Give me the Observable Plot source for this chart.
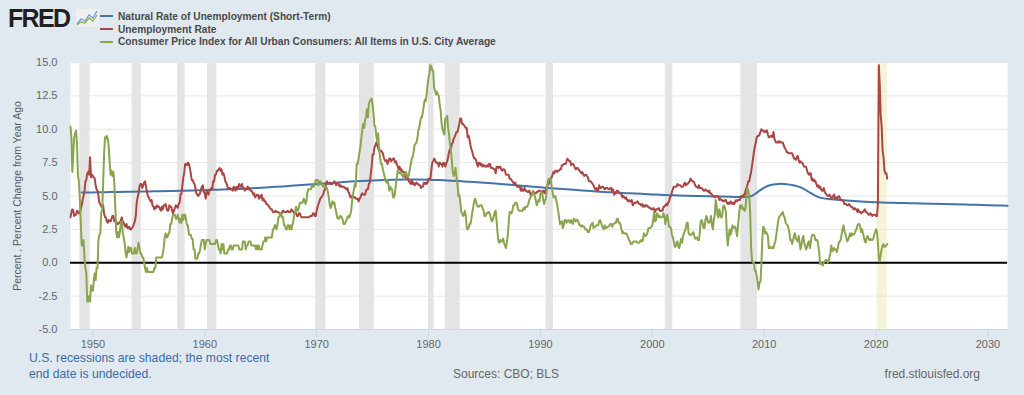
<!DOCTYPE html>
<html><head><meta charset="utf-8">
<script src="https://cdn.jsdelivr.net/npm/d3@7"></script>
<script src="https://cdn.jsdelivr.net/npm/@observablehq/plot@0.6"></script>
<style>
html,body{margin:0;padding:0;background:#e1e9f0;}
#wrap{position:relative;width:1024px;height:395px;overflow:hidden;background:#e1e9f0;font-family:"Liberation Sans",Arial,sans-serif;}
#chart{position:absolute;left:0;top:0;}
#logo{position:absolute;left:8px;top:4px;font-size:25px;font-weight:bold;color:#231f20;letter-spacing:-1.7px;}
#icon{position:absolute;left:76px;top:9px;}
#legend{position:absolute;left:100px;top:11px;font-size:10.2px;font-weight:bold;color:#4a4a4a;}
.li{height:12.7px;line-height:12.7px;white-space:nowrap;position:relative;}
.sw{display:inline-block;width:13px;height:2px;vertical-align:middle;margin-right:5px;position:relative;top:-1px;}
.ft{position:absolute;font-size:12px;white-space:nowrap;}
</style></head><body>
<div id="wrap">
  <div id="chart"></div>
  <div id="logo">FRED</div>
  <svg id="icon" width="23" height="18" viewBox="0 0 23 18">
    <rect x="0" y="0" width="23" height="18" fill="#eef0f2"/>
    <polyline points="1,15 5,10 9,12 13,6 17,9 21,2" fill="none" stroke="#6e9ed2" stroke-width="1.3"/>
    <polyline points="1,16 5,13 9,14 13,9 17,12 21,6" fill="none" stroke="#8fb24a" stroke-width="1.3"/>
  </svg>
  <div id="legend"></div>
  <div class="ft" style="left:29px;top:350px;color:#3e6aa6;line-height:16px;font-size:12.2px;">U.S. recessions are shaded; the most recent<br>end date is undecided.</div>
  <div class="ft" style="left:506px;top:367px;transform:translateX(-50%);color:#666;">Sources: CBO; BLS</div>
  <div class="ft" style="right:44px;top:367px;color:#666;">fred.stlouisfed.org</div>
</div>
<script>
// ---------- DATA ----------
const seriesNames = [
  "Natural Rate of Unemployment (Short-Term)",
  "Unemployment Rate",
  "Consumer Price Index for All Urban Consumers: All Items in U.S. City Average"
];
const seriesColors = ["#4572a7", "#aa4643", "#89a54e"];

// Monthly series start January 1948 and end January 2021
const monthlyStart = [1948, 0];

const unemploymentRate = [
3.4,3.8,4.0,3.9,3.5,3.6,3.6,3.9,3.8,3.7,3.8,4.0,
4.3,4.7,5.0,5.3,6.1,6.2,6.7,6.8,6.6,7.9,6.4,6.6,
6.5,6.4,6.3,5.8,5.5,5.4,5.0,4.5,4.4,4.2,4.2,4.3,
3.7,3.4,3.4,3.1,3.0,3.2,3.1,3.1,3.3,3.5,3.5,3.1,
3.2,3.1,2.9,2.9,3.0,3.0,3.2,3.4,3.1,3.0,2.8,2.7,
2.9,2.6,2.6,2.7,2.5,2.5,2.6,2.7,2.9,3.1,3.5,4.5,
4.9,5.2,5.7,5.9,5.9,5.6,5.8,6.0,6.1,5.7,5.3,5.0,
4.9,4.7,4.6,4.7,4.3,4.2,4.0,4.2,4.1,4.3,4.2,4.2,
4.0,3.9,4.2,4.0,4.3,4.3,4.4,4.1,3.9,3.9,4.3,4.2,
4.2,3.9,3.7,3.9,4.1,4.3,4.2,4.1,4.4,4.5,5.1,5.2,
5.8,6.4,6.7,7.4,7.4,7.3,7.5,7.4,7.1,6.7,6.2,6.2,
6.0,5.9,5.6,5.2,5.1,5.0,5.1,5.2,5.5,5.7,5.8,5.3,
5.2,4.8,5.4,5.2,5.1,5.4,5.5,5.6,5.5,6.1,6.1,6.6,
6.6,6.9,6.9,7.0,7.1,6.9,7.0,6.6,6.7,6.5,6.1,6.0,
5.8,5.5,5.6,5.6,5.5,5.5,5.4,5.7,5.6,5.4,5.7,5.5,
5.7,5.9,5.7,5.7,5.9,5.6,5.6,5.4,5.5,5.5,5.7,5.5,
5.6,5.4,5.4,5.3,5.1,5.2,4.9,5.0,5.1,5.1,4.8,5.0,
4.9,5.1,4.7,4.8,4.6,4.6,4.4,4.4,4.3,4.2,4.1,4.0,
4.0,3.8,3.8,3.8,3.9,3.8,3.8,3.8,3.7,3.7,3.6,3.8,
3.9,3.8,3.8,3.8,3.8,3.9,3.8,3.8,3.8,4.0,3.9,3.8,
3.7,3.8,3.7,3.5,3.5,3.7,3.7,3.5,3.4,3.4,3.4,3.4,
3.4,3.4,3.4,3.4,3.4,3.5,3.5,3.5,3.7,3.7,3.5,3.5,
3.9,4.2,4.4,4.6,4.8,4.9,5.0,5.1,5.4,5.5,5.9,6.1,
5.9,5.9,6.0,5.9,5.9,5.9,6.0,6.1,6.0,5.8,6.0,6.0,
5.8,5.7,5.8,5.7,5.7,5.7,5.6,5.6,5.5,5.6,5.3,5.2,
4.9,5.0,4.9,5.0,4.9,4.9,4.8,4.8,4.8,4.6,4.8,4.9,
5.1,5.2,5.1,5.1,5.1,5.4,5.5,5.5,5.9,6.0,6.6,7.2,
8.1,8.1,8.6,8.8,9.0,8.8,8.6,8.4,8.4,8.4,8.3,8.2,
7.9,7.7,7.6,7.7,7.4,7.6,7.8,7.8,7.6,7.7,7.8,7.8,
7.5,7.6,7.4,7.2,7.0,7.2,6.9,7.0,6.8,6.8,6.8,6.4,
6.4,6.3,6.3,6.1,6.0,5.9,6.2,5.9,6.0,5.8,5.9,6.0,
5.9,5.9,5.8,5.8,5.6,5.7,5.7,6.0,5.9,6.0,5.9,6.0,
6.3,6.3,6.3,6.9,7.5,7.6,7.8,7.7,7.5,7.5,7.5,7.2,
7.5,7.4,7.4,7.2,7.5,7.5,7.2,7.4,7.6,7.9,8.3,8.5,
8.6,8.9,9.0,9.3,9.4,9.6,9.8,9.8,10.1,10.4,10.8,10.8,
10.4,10.4,10.3,10.2,10.1,10.1,9.4,9.5,9.2,8.8,8.5,8.3,
8.0,7.8,7.8,7.7,7.4,7.2,7.5,7.5,7.3,7.4,7.2,7.3,
7.3,7.2,7.2,7.3,7.2,7.4,7.4,7.1,7.1,7.1,7.0,7.0,
6.7,7.2,7.2,7.1,7.2,7.2,7.0,6.9,7.0,7.0,6.9,6.6,
6.6,6.6,6.6,6.3,6.3,6.2,6.1,6.0,5.9,6.0,5.8,5.7,
5.7,5.7,5.7,5.4,5.6,5.4,5.4,5.6,5.4,5.4,5.3,5.3,
5.4,5.2,5.0,5.2,5.2,5.3,5.2,5.2,5.3,5.3,5.4,5.4,
5.4,5.3,5.2,5.4,5.4,5.2,5.5,5.7,5.9,5.9,6.2,6.3,
6.4,6.6,6.8,6.7,6.9,6.9,6.8,6.9,6.9,7.0,7.0,7.3,
7.3,7.4,7.4,7.4,7.6,7.8,7.7,7.6,7.6,7.3,7.4,7.4,
7.3,7.1,7.0,7.1,7.1,7.0,6.9,6.8,6.7,6.8,6.6,6.5,
6.6,6.6,6.5,6.4,6.1,6.1,6.1,6.0,5.9,5.8,5.6,5.5,
5.6,5.4,5.4,5.8,5.6,5.6,5.7,5.7,5.6,5.5,5.6,5.6,
5.6,5.5,5.5,5.6,5.6,5.3,5.5,5.1,5.2,5.2,5.4,5.4,
5.3,5.2,5.2,5.1,4.9,5.0,4.9,4.8,4.9,4.7,4.6,4.7,
4.6,4.6,4.7,4.3,4.4,4.5,4.5,4.5,4.6,4.5,4.4,4.4,
4.3,4.4,4.2,4.3,4.2,4.3,4.3,4.2,4.2,4.1,4.1,4.0,
4.0,4.1,4.0,3.8,4.0,4.0,4.0,4.1,3.9,3.9,3.9,3.9,
4.2,4.2,4.3,4.4,4.3,4.5,4.6,4.9,5.0,5.3,5.5,5.7,
5.7,5.7,5.7,5.9,5.8,5.8,5.8,5.7,5.7,5.7,5.9,6.0,
5.8,5.9,5.9,6.0,6.1,6.3,6.2,6.1,6.1,6.0,5.8,5.7,
5.7,5.6,5.8,5.6,5.6,5.6,5.5,5.4,5.4,5.5,5.4,5.4,
5.3,5.4,5.2,5.2,5.1,5.0,5.0,4.9,5.0,5.0,5.0,4.9,
4.7,4.8,4.7,4.7,4.6,4.6,4.7,4.7,4.5,4.4,4.5,4.4,
4.6,4.5,4.4,4.5,4.4,4.6,4.7,4.6,4.7,4.7,4.7,5.0,
5.0,4.9,5.1,5.0,5.4,5.6,5.8,6.1,6.1,6.5,6.8,7.3,
7.8,8.3,8.7,9.0,9.4,9.5,9.5,9.6,9.8,10.0,9.9,9.9,
9.8,9.8,9.9,9.9,9.6,9.4,9.4,9.5,9.5,9.4,9.8,9.3,
9.1,9.0,9.0,9.1,9.0,9.1,9.0,9.0,9.0,8.8,8.6,8.5,
8.3,8.3,8.2,8.2,8.2,8.2,8.2,8.0,7.8,7.8,7.7,7.9,
8.0,7.7,7.5,7.6,7.5,7.5,7.3,7.2,7.2,7.2,6.9,6.7,
6.6,6.7,6.7,6.2,6.3,6.1,6.2,6.1,5.9,5.7,5.8,5.6,
5.7,5.5,5.4,5.4,5.6,5.3,5.2,5.1,5.0,5.0,5.1,5.0,
4.8,4.9,5.0,5.1,4.8,4.9,4.8,4.9,5.0,4.9,4.7,4.7,
4.7,4.6,4.4,4.4,4.4,4.3,4.3,4.4,4.3,4.2,4.2,4.1,
4.0,4.1,4.0,4.0,3.8,4.0,3.8,3.8,3.7,3.8,3.8,3.9,
4.0,3.8,3.8,3.7,3.6,3.6,3.7,3.6,3.5,3.6,3.6,3.6,
3.5,3.5,4.4,14.8,13.3,11.1,10.2,8.4,7.9,6.9,6.7,6.7,
6.3
];

const cpiPctChangeYearAgo = [
10.2,9.3,6.8,8.2,9.4,9.7,9.9,8.9,6.5,6.1,4.8,3.0,
1.3,1.3,1.7,0.4,-0.4,-0.8,-2.9,-2.9,-2.5,-2.9,-1.7,-2.1,
-2.1,-1.3,-0.8,-1.3,-0.4,-0.4,1.7,2.1,2.2,3.8,3.9,5.9,
8.1,9.4,9.3,9.5,9.3,8.7,7.6,6.6,6.9,6.5,6.8,6.0,
4.3,2.3,1.9,2.3,1.9,2.3,3.0,3.1,2.3,1.9,1.5,0.8,
0.4,0.8,1.2,0.8,1.1,1.1,0.7,0.7,0.7,1.1,0.7,0.7,
1.1,1.5,1.1,0.7,0.7,0.4,0.4,0.0,-0.4,-0.7,-0.4,-0.7,
-0.7,-0.7,-0.7,-0.7,-0.7,-0.7,-0.4,-0.4,0.4,0.4,0.4,0.4,
0.4,0.4,0.4,0.7,1.1,1.9,2.2,1.9,1.9,2.2,2.2,2.9,
2.9,3.3,3.6,3.6,3.6,3.3,3.3,3.6,3.3,3.0,3.3,3.0,
3.6,3.2,3.6,3.6,3.2,2.8,2.8,2.1,2.1,2.1,1.8,1.8,
1.0,1.0,0.3,0.3,0.3,0.7,0.7,1.0,1.4,1.7,1.7,1.7,
1.0,1.4,1.7,1.7,1.7,1.7,1.4,1.4,1.4,1.4,1.4,1.4,
1.7,1.7,1.4,1.0,1.0,0.7,1.4,1.0,1.4,0.7,0.7,0.7,
0.7,1.0,1.0,1.3,1.3,1.0,1.0,1.3,1.3,1.3,1.3,1.3,
1.3,1.0,1.0,1.0,1.0,1.6,1.6,1.6,1.0,1.3,1.3,1.6,
1.6,1.6,1.3,1.3,1.3,1.3,1.3,1.0,1.3,1.0,1.3,1.0,
1.0,1.0,1.3,1.6,1.6,1.9,1.6,1.9,1.9,1.9,1.9,1.9,
1.9,2.5,2.5,2.8,2.8,2.5,2.8,3.4,3.4,3.7,3.7,3.4,
3.4,2.8,2.8,2.5,2.5,2.8,2.8,2.5,2.8,2.5,2.8,3.1,
3.6,3.9,4.2,3.9,3.9,4.2,4.5,4.5,4.5,4.5,4.8,4.7,
4.4,4.6,5.2,5.5,5.5,5.5,5.5,5.8,5.7,5.7,5.9,6.2,
6.2,6.2,5.8,6.1,6.1,6.0,5.8,5.7,5.8,5.7,5.6,5.6,
5.3,4.9,4.4,4.1,4.3,4.6,4.4,4.5,4.1,3.8,3.4,3.3,
3.3,3.5,3.5,3.4,3.2,2.9,2.9,3.0,3.2,3.4,3.5,3.4,
3.6,3.9,4.6,5.1,5.5,5.9,5.7,7.4,7.4,7.8,8.3,8.7,
9.4,10.0,10.4,10.1,10.7,10.9,11.5,10.9,11.9,12.1,12.2,12.3,
11.8,11.2,10.3,10.2,9.5,9.1,9.7,8.6,7.9,7.4,7.4,7.0,
6.7,6.4,6.1,6.0,6.2,5.9,5.4,5.7,5.5,5.5,4.9,4.9,
5.2,5.9,6.4,6.9,6.7,6.7,6.8,6.6,6.6,6.4,6.7,6.7,
6.8,6.4,6.4,6.6,7.0,7.4,7.8,7.9,8.3,8.8,8.9,9.0,
9.3,9.9,10.1,10.5,10.9,10.9,11.3,11.8,12.2,12.1,12.6,13.3,
13.9,14.2,14.8,14.7,14.4,14.4,13.1,12.9,12.6,12.8,12.6,12.5,
11.8,11.4,10.5,10.0,9.8,9.6,10.8,10.8,11.0,10.1,9.6,8.9,
8.4,7.6,6.8,6.5,6.7,7.1,6.4,5.9,5.0,5.1,4.6,3.8,
3.7,3.5,3.6,3.9,3.5,2.6,2.5,2.6,2.9,2.9,3.3,3.8,
4.2,4.6,4.8,4.6,4.3,4.2,4.2,4.3,4.3,4.3,4.1,3.9,
3.5,3.5,3.7,3.7,3.8,3.8,3.6,3.3,3.1,3.2,3.5,3.8,
3.9,3.1,2.3,1.6,1.5,1.7,1.6,1.6,1.8,1.5,1.3,1.1,
1.5,2.1,3.0,3.8,3.8,3.7,3.9,4.3,4.3,4.5,4.5,4.4,
4.0,3.9,3.9,3.9,3.9,3.9,4.1,4.0,4.2,4.2,4.2,4.4,
4.7,4.8,5.0,5.1,5.4,5.2,5.0,4.7,4.3,4.5,4.7,4.6,
5.2,5.3,5.2,4.7,4.4,4.7,4.8,5.6,6.1,6.3,6.3,6.3,
5.7,5.3,4.9,4.9,5.0,4.7,4.4,3.9,3.4,2.9,3.0,3.1,
2.6,2.8,3.2,3.2,3.0,3.1,3.2,3.1,3.0,3.2,3.0,2.9,
3.3,3.2,3.1,3.2,3.2,3.0,2.8,2.8,2.7,2.8,2.7,2.7,
2.5,2.5,2.5,2.3,2.3,2.5,2.8,2.9,3.0,2.6,2.7,2.7,
2.8,2.8,2.8,3.1,3.2,3.0,2.8,2.6,2.5,2.8,2.6,2.6,
2.7,2.7,2.8,2.9,2.9,2.7,2.9,2.9,3.0,3.0,3.3,3.3,
3.0,3.0,2.8,2.5,2.2,2.3,2.2,2.2,2.2,2.1,1.9,1.7,
1.6,1.4,1.4,1.5,1.6,1.6,1.6,1.6,1.5,1.5,1.5,1.6,
1.7,1.6,1.7,2.2,2.1,2.0,2.1,2.3,2.6,2.6,2.6,2.7,
2.8,3.2,3.8,3.1,3.2,3.7,3.6,3.4,3.5,3.4,3.4,3.4,
3.7,3.5,2.9,3.3,3.6,3.2,2.7,2.7,2.6,2.1,1.9,1.6,
1.2,1.2,1.5,1.6,1.2,1.1,1.5,1.8,1.5,2.0,2.2,2.4,
2.6,3.0,3.0,2.2,2.1,2.1,2.1,2.2,2.3,2.0,1.8,1.9,
1.9,1.7,1.7,2.3,3.1,3.2,3.0,2.6,2.6,3.2,3.5,3.3,
3.0,3.0,3.1,3.5,2.8,2.5,3.2,3.6,4.7,4.3,3.5,3.4,
4.0,3.6,3.4,3.5,4.2,4.3,4.1,3.8,2.1,1.3,2.0,2.5,
2.1,2.4,2.8,2.6,2.7,2.7,2.4,2.0,2.8,3.5,4.3,4.1,
4.3,4.0,4.1,3.9,4.1,5.0,5.6,5.4,4.9,3.7,1.1,0.1,
0.0,0.0,-0.6,-0.6,-1.0,-1.4,-2.0,-1.5,-1.4,-0.2,1.8,2.7,
2.6,2.2,2.3,2.2,2.0,1.1,1.2,1.1,1.1,1.2,1.1,1.4,
1.6,2.1,2.6,3.1,3.4,3.5,3.6,3.7,3.8,3.5,3.4,3.0,
2.9,2.8,2.6,2.3,1.7,1.7,1.4,1.7,2.0,2.2,1.8,1.7,
1.6,2.0,1.5,1.0,1.3,1.8,2.0,1.5,1.2,1.0,1.2,1.5,
1.6,1.1,1.5,2.0,2.1,2.1,2.0,1.7,1.7,1.7,1.3,0.8,
-0.1,0.0,-0.1,-0.2,0.0,0.1,0.2,0.2,0.0,0.1,0.4,0.7,
1.3,0.9,0.9,1.1,1.0,1.0,0.8,1.1,1.5,1.6,1.7,2.1,
2.5,2.8,2.4,2.2,1.9,1.6,1.7,1.9,2.2,2.0,2.2,2.1,
2.1,2.2,2.4,2.5,2.8,2.9,2.9,2.7,2.3,2.5,2.2,1.9,
1.6,1.5,1.9,2.0,1.8,1.7,1.8,1.7,1.7,1.8,2.1,2.3,
2.5,2.3,1.5,0.3,0.1,0.6,1.0,1.3,1.4,1.2,1.2,1.3,
1.4
];

// CBO short-term natural rate (read at the start of each year)
const naturalRateDates = [
"1949-01-01","1950-01-01","1951-01-01","1952-01-01","1953-01-01","1954-01-01","1955-01-01","1956-01-01","1957-01-01","1958-01-01",
"1959-01-01","1960-01-01","1961-01-01","1962-01-01","1963-01-01","1964-01-01","1965-01-01","1966-01-01","1967-01-01","1968-01-01",
"1969-01-01","1970-01-01","1971-01-01","1972-01-01","1973-01-01","1974-01-01","1975-01-01","1976-01-01","1977-01-01","1978-01-01",
"1979-01-01","1980-01-01","1981-01-01","1982-01-01","1983-01-01","1984-01-01","1985-01-01","1986-01-01","1987-01-01","1988-01-01",
"1989-01-01","1990-01-01","1991-01-01","1992-01-01","1993-01-01","1994-01-01","1995-01-01","1996-01-01","1997-01-01","1998-01-01",
"1999-01-01","2000-01-01","2001-01-01","2002-01-01","2003-01-01","2004-01-01","2005-01-01","2006-01-01","2007-01-01","2008-01-01",
"2008-07-01","2009-01-01","2009-07-01","2010-01-01","2010-07-01","2011-01-01","2011-07-01","2012-01-01","2012-07-01","2013-01-01",
"2013-07-01","2014-01-01","2014-07-01","2015-01-01","2016-01-01","2017-01-01","2018-01-01","2019-01-01","2020-01-01","2021-01-01",
"2022-01-01","2023-01-01","2024-01-01","2025-01-01","2026-01-01","2027-01-01","2028-01-01","2029-01-01","2030-01-01","2031-01-01",
"2031-10-01"
];
const naturalRateValues = [
5.26,5.27,5.28,5.30,5.31,5.33,5.34,5.36,5.38,5.40,
5.42,5.44,5.47,5.50,5.53,5.57,5.62,5.67,5.72,5.78,
5.84,5.90,5.96,6.02,6.08,6.13,6.17,6.20,6.22,6.23,
6.23,6.22,6.19,6.15,6.10,6.05,5.99,5.93,5.86,5.79,
5.72,5.65,5.58,5.52,5.46,5.40,5.34,5.29,5.24,5.20,
5.16,5.12,5.08,5.05,5.02,5.00,4.98,4.96,4.94,4.92,
4.93,5.05,5.35,5.62,5.80,5.88,5.91,5.88,5.82,5.72,
5.55,5.30,5.05,4.88,4.75,4.68,4.62,4.57,4.53,4.50,
4.48,4.46,4.44,4.42,4.40,4.38,4.36,4.34,4.31,4.29,
4.27
];

// NBER recessions (last one shown as undecided)
const recessionStarts = ["1948-11-01","1953-07-01","1957-08-01","1960-04-01","1969-12-01","1973-11-01","1980-01-01","1981-07-01","1990-07-01","2001-03-01","2007-12-01","2020-02-01"];
const recessionEnds   = ["1949-10-01","1954-05-01","1958-04-01","1961-02-01","1970-11-01","1975-03-01","1980-07-01","1982-11-01","1991-03-01","2001-11-01","2009-06-01","2021-01-01"];
const recessionUndecided = [false,false,false,false,false,false,false,false,false,false,false,true];

const yTicks = [-5, -2.5, 0, 2.5, 5, 7.5, 10, 12.5, 15];
const xTickYears = [1950, 1960, 1970, 1980, 1990, 2000, 2010, 2020, 2030];
const yAxisLabel = "Percent , Percent Change from Year Ago";

// ---------- BUILD ----------
const monthDate = i => new Date(Date.UTC(monthlyStart[0], monthlyStart[1] + i, 1));
const unrateData = unemploymentRate.map((v, i) => ({date: monthDate(i), value: v}));
const cpiData = cpiPctChangeYearAgo.map((v, i) => ({date: monthDate(i), value: v}));
const natData = naturalRateDates.map((d, i) => ({date: new Date(d + "T00:00:00Z"), value: naturalRateValues[i]}));
const recessions = recessionStarts.map((s, i) => ({
  start: new Date(s + "T00:00:00Z"), end: new Date(recessionEnds[i] + "T00:00:00Z"), undecided: recessionUndecided[i]
}));

// legend
const legend = document.getElementById("legend");
seriesNames.forEach((n, i) => {
  const row = document.createElement("div");
  row.className = "li";
  row.innerHTML = `<span class="sw" style="background:${seriesColors[i]}"></span>${n}`;
  legend.appendChild(row);
});

const chart = Plot.plot({
  width: 1024,
  height: 395,
  marginLeft: 70,
  marginRight: 17,
  marginTop: 62,
  marginBottom: 66,
  style: {background: "transparent", fontFamily: "Liberation Sans, Arial, sans-serif", overflow: "visible"},
  x: {type: "utc", domain: [new Date(Date.UTC(1948, 0, 1)), new Date(Date.UTC(2031, 9, 1))]},
  y: {domain: [-5, 15]},
  marks: [
    Plot.frame({fill: "white", stroke: null}),
    Plot.rectX(recessions, {x1: "start", x2: "end", fill: d => d.undecided ? "#f6f4d8" : "#e4e4e4"}),
    Plot.gridY(yTicks, {stroke: "#e6e6e6", strokeOpacity: 1}),
    Plot.ruleY([-5], {stroke: "#ccd6eb"}),
    Plot.axisY(yTicks, {tickSize: 0, tickPadding: 13, tickFormat: d => d.toFixed(1), fill: "#666", fontSize: 11, label: null}),
    Plot.axisX(xTickYears.map(y => new Date(Date.UTC(y, 0, 1))), {tickSize: 8, tickPadding: 3, stroke: "#ccd6eb", fill: "#666", fontSize: 11, tickFormat: d3.utcFormat("%Y"), label: null}),
    Plot.text([yAxisLabel], {frameAnchor: "left", textAnchor: "middle", rotate: -90, dx: -53, fill: "#595959", fontSize: 10.5}),
    Plot.ruleY([0], {stroke: "#000", strokeWidth: 2}),
    Plot.line(natData, {x: "date", y: "value", stroke: seriesColors[0], strokeWidth: 2, curve: "monotone-x"}),
    Plot.line(unrateData, {x: "date", y: "value", stroke: seriesColors[1], strokeWidth: 2}),
    Plot.line(cpiData, {x: "date", y: "value", stroke: seriesColors[2], strokeWidth: 2})
  ]
});
document.getElementById("chart").appendChild(chart);
</script>
</body></html>
